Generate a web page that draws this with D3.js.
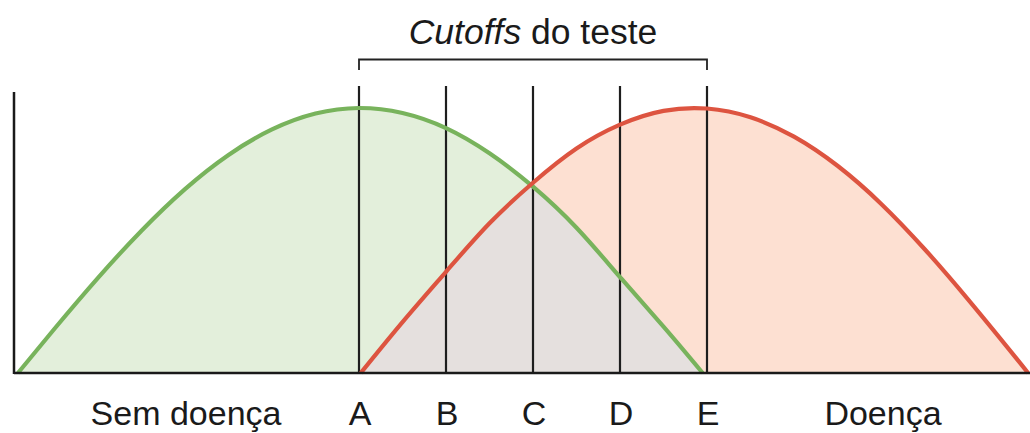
<!DOCTYPE html>
<html>
<head>
<meta charset="utf-8">
<script src="https://cdn.jsdelivr.net/npm/d3@7"></script>
<style>
  html, body { margin: 0; padding: 0; background: #fff; }
  svg { display: block; font-family: "Liberation Sans", Arial, Helvetica, sans-serif; }
</style>
</head>
<body>
<div id="chart"></div>
<script>
(function () {
  const W = 1030, H = 433;

  // Healthy (no disease) distribution: [x, density]
  const semDoencaX = [0.08, 0.5, 1.0, 1.5, 2.0, 2.5, 3.0, 3.5, 4.0, 4.5, 5.0, 5.5, 6.0, 6.5, 7.0, 7.5, 7.95];
  const semDoencaY = [0, 0.167, 0.359, 0.537, 0.694, 0.823, 0.919, 0.979, 1.0, 0.981, 0.924, 0.829, 0.703, 0.548, 0.362, 0.175, 0];

  // Disease distribution
  const doencaX = [4.02, 4.5, 5.0, 5.5, 6.0, 6.5, 7.0, 7.5, 8.0, 8.5, 9.0, 9.5, 10.0, 10.5, 11.0, 11.5, 11.69];
  const doencaY = [0, 0.192, 0.382, 0.565, 0.718, 0.847, 0.937, 0.989, 0.998, 0.965, 0.892, 0.782, 0.639, 0.468, 0.278, 0.078, 0];

  // Test cutoffs
  const cutoffLabels = ["A", "B", "C", "D", "E"];
  const cutoffValues = [4, 5, 6, 7, 8];

  const green = semDoencaX.map((x, i) => ({ x: x, y: semDoencaY[i] }));
  const red = doencaX.map((x, i) => ({ x: x, y: doencaY[i] }));

  const x = d3.scaleLinear().domain([4, 8]).range([359, 707]);
  const y = d3.scaleLinear().domain([0, 1]).range([373, 108]);
  const axisLeftPx = 14;

  const svg = d3.select("#chart").append("svg")
    .attr("width", W)
    .attr("height", H);

  const area = d3.area()
    .x((d) => x(d.x))
    .y0(y(0))
    .y1((d) => y(d.y))
    .curve(d3.curveNatural);

  const line = d3.line()
    .x((d) => x(d.x))
    .y((d) => y(d.y))
    .curve(d3.curveNatural);

  // clip for the overlap region
  svg.append("clipPath")
    .attr("id", "redClip")
    .append("path")
    .attr("d", area(red));

  svg.append("path").attr("d", area(green)).attr("fill", "#e3efdb");
  svg.append("path").attr("d", area(red)).attr("fill", "#fde0d2");
  svg.append("path").attr("d", area(green)).attr("fill", "#e5e0de")
    .attr("clip-path", "url(#redClip)");

  // cutoff lines
  svg.selectAll(".cutoff")
    .data(cutoffValues)
    .join("line")
    .attr("class", "cutoff")
    .attr("x1", (d) => x(d))
    .attr("x2", (d) => x(d))
    .attr("y1", y(1.083))
    .attr("y2", y(0))
    .attr("stroke", "#1e1e1e")
    .attr("stroke-width", 2.2);

  // curves
  svg.append("path").attr("d", line(green))
    .attr("fill", "none").attr("stroke", "#78b35c").attr("stroke-width", 4.2);
  svg.append("path").attr("d", line(red))
    .attr("fill", "none").attr("stroke", "#dd5440").attr("stroke-width", 4.2);

  // axes
  svg.append("line")
    .attr("x1", axisLeftPx).attr("x2", axisLeftPx)
    .attr("y1", y(1.06)).attr("y2", y(0) + 1)
    .attr("stroke", "#1a1a1a").attr("stroke-width", 2.5);
  svg.append("line")
    .attr("x1", axisLeftPx).attr("x2", W)
    .attr("y1", y(0)).attr("y2", y(0))
    .attr("stroke", "#1a1a1a").attr("stroke-width", 2.5);

  // bracket
  const bx0 = x(cutoffValues[0]), bx1 = x(cutoffValues[cutoffValues.length - 1]);
  svg.append("path")
    .attr("d", `M${bx0},70V59.5H${bx1}V70`)
    .attr("fill", "none")
    .attr("stroke", "#222")
    .attr("stroke-width", 1.8);

  const title = svg.append("text")
    .attr("x", (bx0 + bx1) / 2)
    .attr("y", 44)
    .attr("text-anchor", "middle")
    .attr("font-size", 35.5)
    .attr("fill", "#1a1a1a");
  title.append("tspan").attr("font-style", "italic").text("Cutoffs");
  title.append("tspan").text(" do teste");

  // bottom labels
  svg.selectAll(".cut-label")
    .data(cutoffValues)
    .join("text")
    .attr("class", "cut-label")
    .attr("x", (d) => x(d) + 1)
    .attr("y", 425)
    .attr("text-anchor", "middle")
    .attr("font-size", 34)
    .attr("fill", "#1a1a1a")
    .text((d, i) => cutoffLabels[i]);

  svg.append("text")
    .attr("x", 186).attr("y", 425)
    .attr("text-anchor", "middle")
    .attr("font-size", 34)
    .attr("fill", "#1a1a1a")
    .text("Sem doença");

  svg.append("text")
    .attr("x", 883).attr("y", 425)
    .attr("text-anchor", "middle")
    .attr("font-size", 34)
    .attr("fill", "#1a1a1a")
    .text("Doença");
})();
</script>
</body>
</html>
